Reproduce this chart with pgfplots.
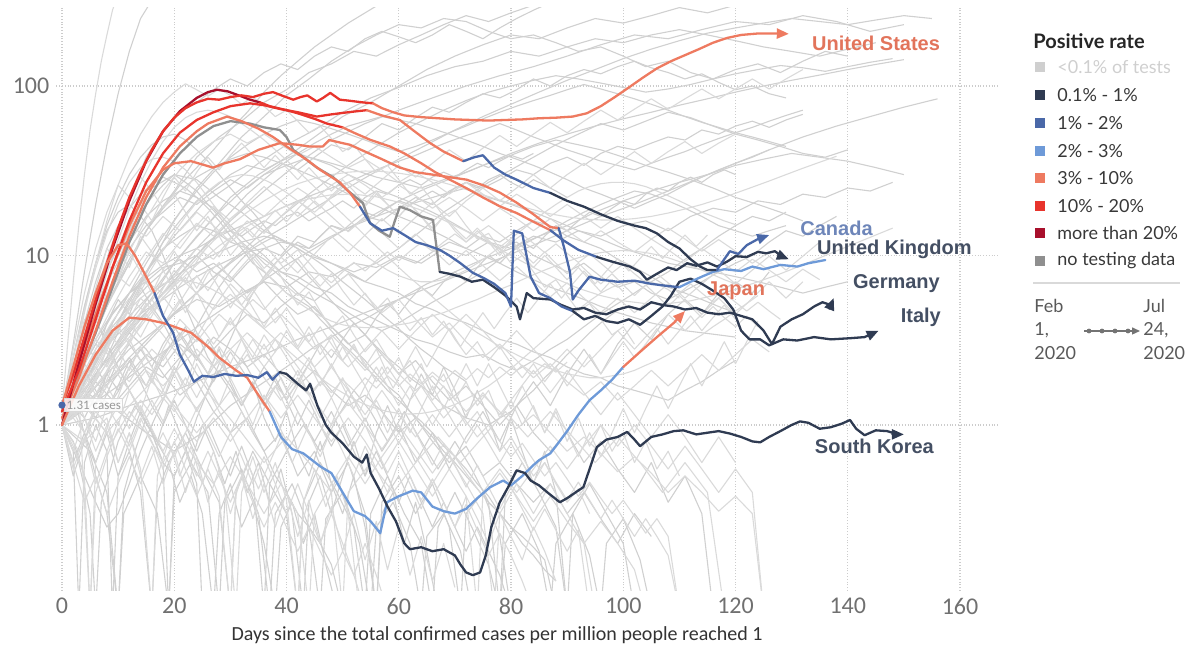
\documentclass[border=0pt]{standalone}
\usepackage{pgfplots}
\pgfplotsset{compat=1.18}
\usetikzlibrary{arrows.meta}
\usepackage{fontspec}
\setmainfont{Carlito}
\newfontfamily\lato{Lato}
\newfontfamily\arial{Liberation Sans}

\definecolor{cNone}{HTML}{CFCFCF}
\definecolor{cNavy}{HTML}{2F3B52}
\definecolor{cBlue}{HTML}{4A68A8}
\definecolor{cLight}{HTML}{6E9AD8}
\definecolor{cSalmon}{HTML}{EE7A60}
\definecolor{cRed}{HTML}{E8342C}
\definecolor{cDark}{HTML}{A8102C}
\definecolor{cNoData}{HTML}{8F8F8F}
\definecolor{cBack}{HTML}{D0D0D0}
\definecolor{cBack2}{HTML}{DADADA}
\definecolor{cTick}{HTML}{707070}

\pgfplotsset{
  bg/.style={cBack, line width=0.55pt, line join=round, mark=none},
  bgl/.style={cBack2, line width=0.55pt, line join=round, mark=none},
  hl/.style={line width=1.15pt, line join=round, line cap=round, mark=none},
  tip/.style={-{Triangle[length=6pt,width=5pt]}},
}

\begin{document}
\begin{tikzpicture}
% full canvas
\path (-28.195pt,-30.05pt) rectangle (569.305pt,295.45pt);

\begin{axis}[
  scale only axis, width=471.45pt, height=291.65pt,
  xmin=-1, xmax=167, ymode=log, ymin=0.105, ymax=290,
  axis line style={draw=none},
  major tick length=0pt, minor tick length=0pt,
  xtick={0,20,40,60,80,100,120,140,160},
  xticklabels={0,20,40,60,80,100,120,140,160},
  ytick={1,10,100}, yticklabels={1,10,100},
  grid=major, grid style={densely dotted, black!20, line width=0.6pt},
  tick label style={font=\fontsize{12}{12}\selectfont, text=cTick},
  clip=true,
]

% ---------- background countries ----------
\addplot[bg] coordinates {(0,1)(3,1.8)(6,3.5)(9,6)(12,9)(15,14)(18,19)(21,26)(24,33)(27,42)(30,55)(33,70)(36,92)(39,115)(42,140)(45,170)(48,200)(51,235)(54,270)(57,310)};
\addplot[bg] coordinates {(0,1.1)(4,2.4)(8,5)(12,9)(16,16)(20,24)(24,38)(28,50)(32,62)(36,80)(40,95)(44,120)(48,135)(52,160)(56,150)(60,175)(64,200)(68,230)(72,260)(76,240)(80,270)(84,300)};
\addplot[bg] coordinates {(0,1)(5,1.6)(10,3)(15,5)(20,9)(25,14)(30,22)(35,30)(40,38)(45,50)(50,66)(55,80)(60,100)(65,125)(70,150)(75,175)(80,200)(85,190)(90,220)(95,250)(100,235)(105,260)(110,290)(115,270)(120,300)};
\addplot[bg] coordinates {(0,1.2)(2,3)(4,8)(6,20)(8,45)(10,90)(12,160)(14,250)(16,320)};
\addplot[bg] coordinates {(0,1)(3,2.5)(6,6)(9,12)(12,22)(15,38)(18,55)(21,70)(24,80)(27,95)(30,110)(33,100)(36,120)(39,135)(42,125)(45,150)(48,170)(51,160)(54,190)(57,210)(60,195)(63,180)(66,200)(69,230)(72,210)(75,190)(78,220)(81,250)(84,280)(87,310)};
\addplot[bg] coordinates {(0,1.3)(5,2)(10,4)(15,8)(20,13)(25,20)(30,26)(35,35)(40,45)(45,55)(50,70)(55,85)(60,98)(65,115)(70,130)(75,140)(80,160)(85,150)(90,170)(95,190)(100,180)(105,200)(110,215)(115,200)(120,185)(125,170)(130,160)(135,150)(140,165)(145,180)};
\addplot[bg] coordinates {(0,1)(4,1.5)(8,2.5)(12,5)(16,9)(20,16)(24,25)(28,35)(32,50)(36,66)(40,88)(44,110)(48,140)(52,170)(56,200)(60,230)(64,220)(68,250)(72,240)(76,210)(80,190)(84,200)(88,180)(92,160)(96,170)(100,150)(104,130)(108,140)(112,120)(116,110)(120,125)(124,135)(128,120)(132,140)(136,160)(140,150)};
\addplot[bg] coordinates {(0,1.1)(6,2)(12,3.5)(18,6)(24,10)(30,16)(36,24)(42,35)(48,48)(54,60)(60,72)(66,85)(72,100)(78,115)(84,130)(90,150)(96,175)(102,200)(108,190)(114,215)(120,240)(126,230)(132,260)(138,240)(144,210)(150,230)};
\addplot[bg] coordinates {(0,1)(3,2)(6,4)(9,7)(12,11)(15,15)(18,18)(21,22)(24,20)(27,24)(30,28)(33,25)(36,30)(39,35)(42,32)(45,38)(48,45)(51,42)(54,50)(57,60)(60,55)(63,65)(66,75)(69,70)(72,80)(75,90)(78,85)(81,95)(84,110)(87,100)(90,115)(93,125)(96,118)(99,130)(102,140)(105,128)(108,120)(111,110)(114,118)(117,105)(120,95)(123,100)(126,90)(129,85)};
\addplot[bg] coordinates {(0,1)(4,3)(8,8)(12,16)(16,25)(20,30)(24,28)(28,22)(32,18)(36,14)(40,12)(44,10)(48,9)(52,8)(56,9)(60,11)(64,14)(68,18)(72,22)(76,27)(80,32)(84,38)(88,45)(92,52)(96,60)(100,55)(104,62)(108,70)(112,65)(116,58)(120,52)(124,48)(128,44)(132,40)(136,38)(140,42)};
\addplot[bg] coordinates {(0,1.1)(3,1.6)(6,2.8)(9,4)(12,6)(15,7)(18,8.5)(21,9)(24,10)(27,8)(30,7)(33,9)(36,11)(39,10)(42,13)(45,12)(48,15)(51,14)(54,17)(57,16)(60,19)(63,22)(66,20)(69,24)(72,27)(75,25)(78,28)(81,32)(84,30)(87,35)(90,38)(93,34)(96,40)(99,44)(102,42)(105,46)(108,50)(111,48)(114,55)(117,52)(120,58)(123,62)(126,57)(129,63)(132,68)};
\addplot[bg] coordinates {(0,1)(2,2.5)(4,5)(6,9)(8,14)(10,18)(12,20)(14,17)(16,14)(18,10)(20,7)(22,5)(24,3.5)(26,2.5)(28,2)(30,1.6)(32,1.2)(34,0.9)(36,0.7)(38,0.5)(40,0.4)(42,0.3)(44,0.25)(46,0.2)(48,0.15)(50,0.08)};
\addplot[bg] coordinates {(0,1.2)(3,2)(6,3)(9,4.5)(12,6)(15,8)(18,11)(21,13)(24,15)(27,14)(30,12)(33,11)(36,9.5)(39,8)(42,7.5)(45,6.5)(48,6)(51,5)(54,4.5)(57,4)(60,3.6)(63,3.2)(66,3)(69,2.7)(72,2.5)(75,2.6)(78,2.3)(81,2.1)(84,2.4)(87,2.8)(90,3.2)(93,3.8)(96,4.5)(99,5.2)(102,6)(105,7)(108,8)(111,9.5)(114,11)(117,13)(120,15)(123,17)(126,16)(129,18)};
\addplot[bg] coordinates {(0,1)(4,1.4)(8,2)(12,2.8)(16,3.5)(20,4.5)(24,5.5)(28,5)(32,6)(36,7)(40,6.5)(44,8)(48,7.5)(52,9)(56,8.5)(60,10)(64,9)(68,11)(72,10)(76,12)(80,11)(84,13)(88,12)(92,14)(96,13)(100,15)(104,16)(108,14)(112,17)(116,19)(120,18)(124,21)(128,20)(132,23)(136,22)(140,25)(144,24)(148,27)};
\addplot[bg] coordinates {(0,1)(3,1.3)(6,1.8)(9,1.4)(12,2)(15,2.6)(18,2.2)(21,3)(24,2.5)(27,3.3)(30,2.8)(33,2.2)(36,2.6)(39,2)(42,1.7)(45,2.1)(48,1.6)(51,1.3)(54,1.5)(57,1.2)(60,0.9)(63,1.1)(66,0.8)(69,0.6)(72,0.75)(75,0.5)(78,0.6)(81,0.45)(84,0.35)(87,0.45)(90,0.3)(93,0.4)(96,0.28)(99,0.2)(102,0.3)(105,0.22)};
\addplot[bg] coordinates {(0,1)(2,1.6)(4,2.8)(6,4.2)(8,3)(10,2.2)(12,1.6)(14,1.2)(16,0.9)(18,0.6)(20,0.5)(22,0.7)(24,1.1)(26,1.6)(28,2.3)(30,3.2)(32,4.5)(34,6)(36,7.5)(38,9)(40,10.5)(42,12)(44,11)(46,13)(48,15)(50,14)(52,16)(54,18)(56,17)(58,19)(60,21)(62,20)(64,22)(66,24)(68,22)(70,25)(72,27)(74,25)(76,28)(78,30)(80,27)(82,25)(84,28)(86,26)(88,24)(90,22)};
\addplot[bg] coordinates {(0,1.3)(3,1.9)(6,2.4)(9,3.2)(12,4)(15,4.8)(18,5.5)(21,6.5)(24,7.5)(27,8.5)(30,9.5)(33,10.5)(36,11)(39,12)(42,11.5)(45,10)(48,9)(51,8)(54,7)(57,6.5)(60,6)(63,5.2)(66,4.8)(69,4.3)(72,4)(75,3.6)(78,3.2)(81,3)(84,2.7)(87,2.5)(90,2.2)(93,2)(96,1.9)(99,1.7)(102,1.6)(105,1.5)(108,1.4)(111,1.6)(114,1.8)(117,2.1)(120,2.4)};
\addplot[bg] coordinates {(0,1)(2,0.5)(4,0.8)(6,1.3)(8,2)(10,2.8)(12,3.6)(14,4.3)(16,5)(18,6)(20,7)(22,8.5)(24,10)(26,12)(28,13.5)(30,14)(32,13)(34,14.5)(36,16)(38,15)(40,17)(42,18)(44,16)(46,17.5)(48,19)(50,21)(52,19)(54,22)(56,24)(58,23)(60,26)(62,28)(64,26)(66,29)(68,31)(70,29)(72,32)(74,35)(76,33)(78,36)(80,39)(82,37)(84,40)};
\addplot[bg] coordinates {(0,1)(3,1.2)(6,1.5)(9,1.3)(12,1.7)(15,2.2)(18,1.9)(21,2.5)(24,3.2)(27,2.8)(30,3.6)(33,4.5)(36,4)(39,5)(42,6)(45,5.4)(48,6.5)(51,7.8)(54,7)(57,8.5)(60,9.8)(63,9)(66,10.5)(69,12)(72,11)(75,13)(78,12)(81,14)(84,16)(87,15)(90,13)(93,12)(96,11)(99,9.5)(102,8.5)(105,7.5)(108,6.5)(111,6)(114,5.5)(117,5)(120,4.6)};
\addplot[bg] coordinates {(0,1)(5,1.5)(10,1.2)(15,0.9)(20,0.7)(25,0.9)(30,1.3)(35,1.7)(40,2.2)(45,2.9)(50,3.6)(55,4.4)(60,5.5)(65,6.8)(70,8)(75,9.5)(80,11)(85,13)(90,15)(95,18)(100,21)(105,24)(110,27)(115,30)(120,34)(125,37)(130,40)(135,38)(140,36)(145,33)(150,30)};
\addplot[bg] coordinates {(0,1)(2,1.4)(4,0.9)(6,0.6)(8,0.9)(10,0.5)(12,0.7)(14,0.4)(16,0.08)(17,0.4)(19,0.6)(21,0.35)(23,0.5)(25,0.3)(27,0.08)(28,0.3)(30,0.45)(32,0.25)(34,0.35)(36,0.2)(38,0.08)(39,0.25)(41,0.35)(43,0.2)(45,0.3)(47,0.15)(49,0.08)};
\addplot[bg] coordinates {(0,1.2)(3,2)(6,3)(9,2.5)(12,3.5)(15,2.8)(18,2)(21,1.5)(24,1.8)(27,1.2)(30,0.9)(33,1.1)(36,0.7)(39,0.9)(42,0.5)(45,0.7)(48,0.4)(51,0.6)(54,0.3)(56,0.08)(57,0.35)(60,0.5)(63,0.3)(66,0.45)(69,0.25)(71,0.08)(72,0.3)(75,0.4)(78,0.22)(80,0.08)};
\addplot[bg] coordinates {(0,1)(2,1.8)(4,3.2)(6,2.4)(8,4)(10,5.5)(12,4.5)(14,6.5)(16,5)(18,4)(20,3)(22,3.8)(24,2.6)(26,2)(28,2.8)(30,1.8)(32,1.3)(34,1.8)(36,1.1)(38,0.8)(40,1.2)(42,0.7)(44,0.5)(46,0.8)(48,0.45)(50,0.3)(52,0.5)(54,0.25)(56,0.08)(57,0.3)(59,0.4)(61,0.2)(63,0.35)(65,0.18)(67,0.08)};
\addplot[bg] coordinates {(0,1)(3,1.5)(6,1.1)(9,1.8)(12,2.5)(15,1.7)(18,2.6)(21,3.5)(24,2.5)(27,1.8)(30,2.7)(33,1.9)(36,1.3)(39,1.9)(42,1.2)(45,0.8)(48,1.2)(51,0.75)(54,1.1)(57,0.7)(60,1.0)(63,0.6)(66,0.9)(69,0.55)(72,0.85)(75,1.2)(78,0.8)(81,1.3)(84,1.8)(87,1.3)(90,2)(93,2.8)(96,2)(99,3)(102,4)(105,3.2)(108,4.5)(111,5.5)(114,4.5)(117,6)(120,7)(123,6)(126,8)};
\addplot[bg] coordinates {(0,1)(2,0.6)(4,0.9)(6,0.5)(8,0.3)(10,0.08)(11,0.4)(13,0.7)(15,1.1)(17,0.8)(19,1.3)(21,0.9)(23,0.6)(25,1)(27,0.7)(29,0.45)(31,0.7)(33,0.4)(35,0.6)(37,0.35)(39,0.55)(41,0.3)(43,0.08)(44,0.35)(46,0.5)(48,0.3)(50,0.5)(52,0.8)(54,0.5)(56,0.9)(58,1.3)(60,0.9)(62,1.4)(64,2)(66,1.5)(68,2.2)(70,1.6)(72,1.1)(74,1.6)(76,1.1)(78,0.7)(80,1.1)(82,0.7)(84,0.45)(86,0.7)(88,0.4)(90,0.08)};
\addplot[bg] coordinates {(0,1.1)(3,1.7)(6,2.6)(9,3.8)(12,5)(15,6.5)(18,8)(21,9.5)(24,8)(27,9)(30,7.5)(33,6)(36,7)(39,5.5)(42,4.5)(45,5)(48,3.8)(51,3)(54,3.4)(57,2.6)(60,2)(63,2.4)(66,1.8)(69,1.4)(72,1.7)(75,1.3)(78,1)(81,1.3)(84,0.9)(87,0.7)(90,0.9)(93,0.6)(96,0.8)(99,0.55)(102,0.4)(105,0.6)(108,0.35)(111,0.5)(114,0.3)(116,0.08)};
\addplot[bg] coordinates {(0,1)(2,2)(4,4)(6,7)(8,11)(10,15)(12,19)(14,23)(16,26)(18,29)(20,27)(22,25)(24,22)(26,19)(28,16)(30,13)(32,11)(34,9)(36,8)(38,7)(40,6)(42,5.5)(44,5)(46,4.2)(48,3.6)(50,3)(52,2.6)(54,2.2)(56,1.9)(58,1.6)(60,1.4)(62,1.2)(64,1)(66,0.85)(68,0.7)(70,0.6)(72,0.5)(74,0.42)(76,0.35)(78,0.3)(80,0.25)(82,0.22)(84,0.19)(86,0.16)(88,0.08)};
\addplot[bg] coordinates {(0,1)(3,1.5)(6,2.4)(9,3.5)(12,5.5)(15,8)(18,12)(21,16)(24,21)(27,25)(30,30)(33,34)(36,32)(39,36)(42,40)(45,37)(48,34)(51,30)(54,27)(57,24)(60,22)(63,20)(66,18)(69,16)(72,14)(75,12.5)(78,11)(81,12)(84,10)(87,9)(90,8)(93,9)(96,7.5)(99,6.5)(102,7)(105,6)(108,5.5)(111,6.2)(114,7)(117,8)(120,9)(123,10)(126,12)(129,14)(132,13)(135,15)(138,17)};
\addplot[bg] coordinates {(0,1)(4,1.6)(8,2.5)(12,4)(16,6)(20,9)(24,13)(28,18)(32,24)(36,30)(40,34)(44,38)(48,35)(52,32)(56,29)(60,27)(64,25)(68,28)(72,31)(76,35)(80,39)(84,44)(88,48)(92,45)(96,42)(100,38)(104,34)(108,31)(112,28)(116,25)(120,22)(124,20)(128,18)(132,16)};
\addplot[bg] coordinates {(0,1)(2,1.3)(4,1.8)(6,2.2)(8,1.7)(10,2.4)(12,3)(14,2.4)(16,1.8)(18,2.5)(20,3.2)(22,2.6)(24,2)(26,1.6)(28,2.1)(30,1.7)(32,1.3)(34,1.7)(36,2.2)(38,1.8)(40,1.4)(42,1.8)(44,2.3)(46,3)(48,2.5)(50,3.2)(52,4)(54,3.4)(56,4.3)(58,5.2)(60,4.5)(62,5.5)(64,6.5)(66,5.8)(68,7)(70,8)(72,7)(74,8.5)(76,10)(78,9)(80,10.5)(82,12)(84,11)(86,13)(88,15)(90,14)(92,16)(94,18)(96,17)(98,19)(100,21)(102,20)(104,23)(106,25)(108,24)(110,27)(112,29)(114,27)(116,30)(118,32)(120,30)};
\addplot[bg] coordinates {(0,1)(3,2.2)(6,4.5)(9,8)(12,12)(15,17)(18,21)(21,24)(24,22)(27,19)(30,15)(33,12)(36,10)(39,8)(42,7)(45,6)(48,5.3)(51,4.6)(54,4)(57,3.6)(60,4)(63,4.6)(66,5.3)(69,6)(72,7)(75,8)(78,9.5)(81,11)(84,12.5)(87,14)(90,16)(93,18)(96,20)(99,22)(102,24)(105,23)(108,21)(111,19)(114,17)(117,15)(120,14)(123,13)(126,14)(129,15)};
\addplot[bg] coordinates {(0,1)(2,0.7)(3,0.08)(4,0.6)(6,1)(8,0.7)(9,0.08)(10,0.5)(12,0.8)(14,1.2)(16,0.9)(18,0.6)(19,0.08)(20,0.5)(22,0.7)(24,0.45)(25,0.08)};
\addplot[bg] coordinates {(0,1.1)(2,1.9)(4,3)(6,4.8)(8,7)(10,10)(12,14)(14,18)(16,22)(18,26)(20,30)(22,27)(24,24)(26,20)(28,17)(30,14)(32,12)(34,10.5)(36,9)(38,8)(40,7)(42,6)(44,5.2)(46,4.5)(48,3.8)(50,3.3)(52,2.8)(54,2.4)(56,2)(58,1.7)(60,1.5)(62,1.2)(64,1.05)(66,0.9)(68,0.75)(70,0.65)(72,0.55)(74,0.45)(76,0.38)(78,0.3)(80,0.25)(82,0.2)(84,0.17)(86,0.14)(88,0.12)};
\addplot[bg] coordinates {(0,1)(4,1.8)(8,3)(12,4.4)(16,6)(20,7.5)(24,9)(28,10.5)(32,12)(36,13)(40,12)(44,11)(48,13)(52,15)(56,17)(60,19)(64,21)(68,23)(72,25)(76,22)(80,20)(84,18)(88,16)(92,14)(96,12.5)(100,11)(104,10)(108,9)(112,8.5)(116,8)(120,7.5)(124,7)(128,6.5)(132,6)(136,6.5)(140,7)};
\addplot[bg] coordinates {(0,1)(2,1.3)(4,1.1)(6,1.5)(8,2)(10,1.6)(12,2.2)(14,2.8)(16,2.2)(18,3)(20,3.8)(22,3)(24,2.4)(26,3.2)(28,2.5)(30,1.9)(32,2.5)(34,1.9)(36,1.4)(38,1.9)(40,1.4)(42,1)(44,1.4)(46,1)(48,0.75)(50,1)(52,0.7)(54,0.5)(56,0.7)(58,0.5)(60,0.35)(62,0.5)(64,0.35)(66,0.25)(68,0.35)(70,0.25)(72,0.18)(74,0.25)(76,0.18)(78,0.13)(80,0.08)};
\addplot[bg] coordinates {(0,1)(3,1.4)(6,2)(9,2.8)(12,3.8)(15,5)(18,6.5)(21,8.5)(24,11)(27,14)(30,18)(33,23)(36,28)(39,34)(42,40)(45,46)(48,52)(51,58)(54,62)(57,66)(60,63)(63,60)(66,56)(69,52)(72,48)(75,44)(78,40)(81,37)(84,34)(87,31)(90,28)(93,25)(96,23)(99,21)(102,19)(105,21)(108,23)(111,26)(114,29)(117,32)(120,35)(123,38)(126,42)};
\addplot[bg] coordinates {(0,1.2)(2,2.5)(4,5)(6,9)(8,15)(10,22)(12,30)(14,38)(16,45)(18,50)(20,52)(22,48)(24,42)(26,36)(28,30)(30,25)(32,21)(34,18)(36,15)(38,12.5)(40,10.5)(42,9)(44,7.5)(46,6.4)(48,5.4)(50,4.6)(52,4)(54,3.4)(56,2.9)(58,2.5)(60,2.2)(62,1.9)(64,1.7)(66,1.5)(68,1.3)(70,1.2)(72,1.1)(74,1.05)(76,1)(78,1.1)(80,1.2)(82,1.4)(84,1.6)(86,1.9)(88,2.2)(90,2.6)(92,3)(94,3.5)(96,4)(98,4.5)(100,5)};
\addplot[bg] coordinates {(0,1)(5,1.3)(10,1.7)(15,2.3)(20,3)(25,4)(30,5.2)(35,6.8)(40,8.8)(45,11)(50,14)(55,17)(60,21)(65,25)(70,29)(75,34)(80,40)(85,46)(90,52)(95,58)(100,64)(105,70)(110,77)(115,84)(120,92)(125,100)(130,108)(135,116)(140,125)(145,134)(150,143)};
\addplot[bg] coordinates {(0,1)(2,0.8)(4,0.5)(6,0.35)(8,0.25)(10,0.3)(12,0.45)(14,0.7)(16,1)(18,1.4)(20,2)(22,2.8)(24,3.8)(26,5)(28,6.5)(30,8)(32,9.5)(34,11)(36,12)(38,13)(40,12)(42,11)(44,10)(46,9)(48,8)(50,7)(52,6.2)(54,5.5)(56,4.8)(58,4.2)(60,3.7)(62,3.2)(64,2.8)(66,2.5)(68,2.2)(70,2)(72,1.8)};
\addplot[bg] coordinates {(0,1)(3,1.9)(6,3.5)(9,6)(12,9.5)(15,14)(18,19)(21,24)(24,29)(27,33)(30,37)(33,40)(36,38)(39,35)(42,32)(45,29)(48,26)(51,23)(54,21)(57,19)(60,17)(63,15.5)(66,14)(69,12.5)(72,11)(75,10)(78,9)(81,8)(84,7.2)(87,6.5)(90,6)(93,5.5)(96,5)(99,4.6)(102,4.3)(105,4)(108,3.8)(111,3.6)(114,3.5)(117,3.4)(120,3.3)};
\addplot[bg] coordinates {(0,1)(4,1.3)(8,1.8)(12,2.5)(16,3.4)(20,4.6)(24,6)(28,8)(32,10.5)(36,14)(40,18)(44,23)(48,29)(52,36)(56,44)(60,53)(64,62)(68,72)(72,82)(76,92)(80,100)(84,108)(88,115)(92,110)(96,104)(100,98)(104,92)(108,96)(112,102)(116,110)(120,118)(124,125)(128,132)(132,128)(136,122)(140,130)(144,138)(148,145)};
\addplot[bg] coordinates {(0,1)(3,1.6)(6,2.5)(9,4)(12,6)(15,9)(18,13)(21,18)(24,24)(27,31)(30,38)(33,45)(36,52)(39,58)(42,63)(45,60)(48,56)(51,52)(54,48)(57,44)(60,41)(63,44)(66,48)(69,53)(72,58)(75,64)(78,70)(81,76)(84,82)(87,88)(90,95)(93,102)(96,96)(99,90)(102,84)(105,78)(108,72)(111,66)(114,61)(117,57)(120,53)(123,50)(126,47)(129,44)};
\addplot[bg] coordinates {(0,1)(5,1.4)(10,2)(15,3)(20,4.5)(25,6.5)(30,9)(35,12)(40,15)(45,19)(50,24)(55,30)(60,37)(65,45)(70,55)(75,66)(80,78)(85,92)(90,108)(95,125)(100,145)(105,165)(110,185)(115,205)(120,220)(125,235)(130,250)(135,240)(140,230)(145,245)(150,260)(155,250)};
\addplot[bg] coordinates {(0,1.2)(3,2.1)(6,3.2)(9,4.6)(12,6)(15,7.4)(18,8.8)(21,10)(24,11)(27,12.5)(30,14)(33,15.5)(36,17)(39,19)(42,21)(45,23)(48,25)(51,27)(54,30)(57,33)(60,36)(63,39)(66,43)(69,47)(72,51)(75,55)(78,60)(81,55)(84,50)(87,46)(90,42)(93,39)(96,36)(99,34)(102,32)(105,35)(108,38)(111,41)(114,45)(117,49)(120,53)(123,57)(126,62)(129,67)(132,72)};
\addplot[bg] coordinates {(0,1)(6,1.1)(12,1.3)(18,1.5)(24,1.8)(30,2.2)(36,2.6)(42,3.2)(48,3.8)(54,4.6)(60,5.5)(66,6.6)(72,8)(78,9.6)(84,11.5)(90,14)(96,17)(102,20)(108,24)(114,29)(120,35)(126,42)(132,50)(138,58)(144,66)(150,75)(156,84)};
\addplot[bg] coordinates {(0,1)(5,0.7)(8,0.4)(10,0.08)(11,0.3)(14,0.5)(17,0.3)(19,0.08)(20,0.4)(23,0.6)(26,0.4)(28,0.08)(29,0.35)(32,0.55)(35,0.3)(37,0.08)(38,0.3)(41,0.45)(44,0.25)(46,0.08)(47,0.28)(50,0.4)(53,0.2)(55,0.08)(56,0.25)(59,0.35)(62,0.2)(64,0.08)(65,0.22)(68,0.3)(71,0.18)(73,0.08)};
\addplot[bg] coordinates {(0,1)(3,0.6)(5,0.3)(6,0.08)(7,0.35)(10,0.8)(13,1.3)(16,0.9)(19,0.6)(22,0.9)(25,0.55)(28,0.35)(30,0.08)(31,0.4)(34,0.7)(37,0.45)(40,0.3)(42,0.08)(43,0.35)(46,0.6)(49,0.4)(52,0.25)(54,0.08)(55,0.3)(58,0.5)(61,0.3)(64,0.2)(66,0.08)(67,0.25)(70,0.4)(73,0.25)(76,0.15)(78,0.08)(79,0.2)(82,0.3)(85,0.18)(87,0.08)(88,0.2)(91,0.3)(94,0.17)(96,0.08)(97,0.2)(100,0.28)(103,0.16)(105,0.08)};
\addplot[bg] coordinates {(0,1.1)(2,1.5)(4,2.1)(6,1.6)(8,1.2)(10,1.7)(12,2.4)(14,1.8)(16,1.3)(18,1)(20,1.4)(22,1)(24,0.7)(26,1)(28,0.7)(30,0.5)(32,0.75)(34,0.5)(36,0.08)(37,0.45)(40,0.7)(43,1)(46,0.7)(49,1.1)(52,1.6)(55,1.2)(58,0.8)(61,1.2)(64,0.8)(67,0.55)(70,0.8)(73,0.55)(76,0.35)(78,0.08)(79,0.4)(82,0.6)(85,0.4)(88,0.25)(90,0.08)(91,0.3)(94,0.45)(97,0.3)(100,0.2)(102,0.08)};
% more, lighter
\addplot[bgl] coordinates {(0,1)(2,1.5)(4,2.3)(6,1.8)(8,2.9)(10,3.8)(12,3.1)(14,4.6)(16,5.5)(18,4.4)(20,6.1)(22,7.4)(24,5.9)(26,7.8)(28,9.1)(30,7.2)(32,8.6)(34,10.2)(36,8.4)(38,9.7)(40,8.1)(42,9.6)(44,7.9)(46,6.6)(48,7.8)(50,6.2)(52,5.1)(54,6.0)(56,4.8)(58,5.6)(60,4.4)(62,3.6)(64,4.3)(66,3.4)(68,4.1)(70,3.2)(72,2.6)(74,3.1)(76,2.4)(78,2.9)(80,2.3)(82,1.9)(84,2.3)(86,1.8)(88,2.2)(90,1.7)(92,2.1)(94,2.6)(96,2.0)(98,2.5)(100,3.1)(102,2.5)(104,3.0)(106,3.7)(108,3.0)(110,3.6)(112,4.4)(114,3.6)(116,4.3)(118,5.1)(120,4.2)};
\addplot[bgl] coordinates {(0,1)(2,0.7)(4,1.1)(6,0.8)(8,1.3)(10,1.0)(12,1.6)(14,1.2)(16,1.9)(18,1.4)(20,2.2)(22,1.7)(24,2.6)(26,2.0)(28,2.9)(30,2.3)(32,3.2)(34,2.5)(36,3.4)(38,2.7)(40,3.6)(42,2.8)(44,3.5)(46,2.6)(48,3.3)(50,2.4)(52,3.0)(54,2.2)(56,2.8)(58,2.0)(60,2.5)(62,1.8)(64,2.3)(66,1.6)(68,2.0)(70,1.4)(72,1.8)(74,1.3)(76,1.6)(78,1.1)(80,1.4)(82,1.0)(84,1.3)(86,0.9)(88,1.2)(90,0.8)(92,1.1)(94,0.75)(96,1.0)(98,0.7)(100,0.9)(102,0.6)(104,0.8)(106,0.55)(108,0.7)(110,0.5)};
\addplot[bgl] coordinates {(0,1)(3,2.6)(6,5.5)(9,9.8)(12,15)(15,13)(18,17)(21,14)(24,18)(27,15)(30,12)(33,14.5)(36,11.5)(39,9)(42,10.8)(45,8.3)(48,6.5)(51,7.8)(54,5.9)(57,4.6)(60,5.5)(63,4.2)(66,3.3)(69,4.0)(72,3.1)(75,2.5)(78,3.0)(81,2.4)(84,1.9)(87,2.3)(90,1.8)(93,1.5)(96,1.8)(99,1.4)(102,1.7)(105,2.1)(108,1.7)(111,2.1)(114,2.6)(117,2.1)(120,2.6)(123,3.2)(126,2.7)};
\addplot[bgl] coordinates {(0,1.2)(2,2.8)(4,6)(6,11)(8,18)(10,26)(12,22)(14,29)(16,24)(18,19)(20,23)(22,18)(24,14)(26,17)(28,13)(30,10)(32,12)(34,9.3)(36,7.2)(38,8.6)(40,6.6)(42,5.1)(44,6.1)(46,4.7)(48,3.7)(50,4.4)(52,3.4)(54,2.7)(56,3.2)(58,2.5)(60,2.0)(62,2.4)(64,1.8)(66,1.4)(68,1.7)(70,1.3)(72,1.0)(74,1.2)(76,0.9)(78,0.7)(80,0.85)(82,0.65)(84,0.5)(86,0.6)(88,0.45)(90,0.35)(92,0.42)(94,0.3)};
\addplot[bgl] coordinates {(0,1)(2,1.3)(4,1.9)(6,2.6)(8,3.5)(10,3)(12,4.2)(14,5.6)(16,4.8)(18,6.4)(20,8.2)(22,7)(24,9.2)(26,11.5)(28,9.8)(30,12.4)(32,15)(34,12.8)(36,15.6)(38,18.5)(40,15.8)(42,18.8)(44,22)(46,19)(48,22.5)(50,26)(52,22.5)(54,19.5)(56,23)(58,20)(60,17)(62,20)(64,17)(66,14.5)(68,17)(70,14.5)(72,12.5)(74,14.5)(76,12.3)(78,10.5)(80,12.3)(82,10.4)(84,9)(86,10.5)(88,9)(90,7.8)(92,9)(94,7.8)(96,6.8)(98,7.8)(100,6.7)(102,5.8)(104,6.7)(106,5.8)(108,5)(110,5.8)(112,5)(114,4.3)(116,5)(118,4.3)(120,3.8)(122,4.4)(124,3.8)};
\addplot[bgl] coordinates {(0,1)(2,1.6)(4,1.2)(6,1.9)(8,2.8)(10,2.1)(12,3.2)(14,2.4)(16,1.8)(18,2.7)(20,2.0)(22,1.5)(24,2.3)(26,1.7)(28,1.3)(30,1.9)(32,1.4)(34,1.0)(36,1.5)(38,1.1)(40,0.8)(42,1.2)(44,0.9)(46,0.65)(48,0.95)(50,0.7)(52,0.5)(54,0.75)(56,0.55)(58,0.4)(60,0.6)(62,0.45)(64,0.32)(66,0.48)(68,0.35)(70,0.25)(72,0.38)(74,0.28)(76,0.2)(78,0.3)(80,0.22)(82,0.16)(84,0.25)(86,0.18)(88,0.12)};
\addplot[bgl] coordinates {(0,1.1)(3,1.9)(6,3.2)(9,5)(12,7.5)(15,10.5)(18,9)(21,12)(24,15.5)(27,13)(30,16.5)(33,20)(36,17)(39,21)(42,25)(45,21.5)(48,26)(51,30)(54,26)(57,22)(60,26)(63,22.5)(66,19)(69,22)(72,19)(75,16)(78,19)(81,16.5)(84,14)(87,16.5)(90,14)(93,12)(96,14)(99,12)(102,10.5)(105,12.5)(108,10.8)(111,9.2)(114,11)(117,9.4)(120,8)(123,9.5)(126,8.2)(129,7)(132,8.3)(135,7.2)};
\addplot[bgl] coordinates {(0,1)(2,0.75)(4,0.5)(5,0.08)(6,0.4)(8,0.65)(10,0.95)(12,0.7)(14,1.05)(16,1.4)(18,1.05)(20,1.45)(22,1.9)(24,1.45)(26,1.95)(28,2.5)(30,1.9)(32,2.5)(34,3.2)(36,2.5)(38,3.2)(40,2.5)(42,1.95)(44,2.5)(46,1.9)(48,1.45)(50,1.9)(52,1.4)(54,1.05)(56,1.4)(58,1.05)(60,0.78)(62,1.05)(64,0.78)(66,0.58)(68,0.78)(70,0.58)(72,0.43)(74,0.58)(76,0.43)(78,0.32)(80,0.43)(82,0.32)(84,0.24)(86,0.32)(88,0.24)(90,0.18)(92,0.24)(94,0.08)};
\addplot[bgl] coordinates {(0,1)(3,1.4)(6,2.1)(9,3.2)(12,4.8)(15,7)(18,6)(21,8.3)(24,11)(27,9.5)(30,12.5)(33,16)(36,13.5)(39,17)(42,21)(45,18)(48,22)(51,27)(54,23)(57,28)(60,34)(63,29)(66,35)(69,42)(72,36)(75,43)(78,51)(81,44)(84,52)(87,61)(90,53)(93,62)(96,72)(99,63)(102,73)(105,84)(108,73)(111,84)(114,96)(117,84)(120,96)(123,110)(126,96)(129,110)(132,125)};
\addplot[bgl] coordinates {(0,1)(2,1.9)(4,3.5)(6,6.4)(8,11)(10,9)(12,14)(14,20)(16,16)(18,22)(20,29)(22,24)(24,31)(26,38)(28,32)(30,39)(32,46)(34,39)(36,33)(38,39)(40,33)(42,28)(44,33)(46,28)(48,24)(50,28)(52,24)(54,20)(56,24)(58,20)(60,17)(62,20)(64,17)(66,14)(68,17)(70,14)(72,12)(74,14)(76,12)(78,10)(80,12)(82,10)(84,8.5)(86,10)(88,8.5)(90,7.2)(92,8.5)(94,7.2)(96,6.1)(98,7.2)(100,6.1)};
\addplot[bgl] coordinates {(0,1)(4,0.8)(8,1.1)(10,0.6)(12,0.9)(14,0.5)(16,0.75)(18,0.45)(20,0.7)(22,0.4)(24,0.65)(26,0.35)(28,0.55)(30,0.3)(32,0.5)(34,0.28)(36,0.45)(38,0.25)(40,0.4)(42,0.22)(44,0.36)(46,0.2)(48,0.33)(50,0.18)(52,0.3)(54,0.16)(56,0.27)(58,0.14)(60,0.25)(62,0.13)(64,0.22)(66,0.12)(68,0.2)(70,0.11)};
\addplot[bgl] coordinates {(0,1)(2,1.2)(4,1.5)(6,1.3)(8,1.7)(10,2.1)(12,1.8)(14,2.3)(16,2.8)(18,2.4)(20,3)(22,3.6)(24,3.1)(26,3.8)(28,4.5)(30,3.9)(32,4.7)(34,5.5)(36,4.8)(38,5.7)(40,6.6)(42,5.8)(44,6.8)(46,7.8)(48,6.9)(50,8)(52,9.1)(54,8.1)(56,9.3)(58,10.5)(60,9.3)(62,10.6)(64,11.9)(66,10.6)(68,12)(70,13.4)(72,12)(74,13.5)(76,15)(78,13.4)(80,11.9)(82,13.3)(84,11.8)(86,10.4)(88,11.7)(90,10.3)(92,9.1)(94,10.2)(96,9)(98,7.9)(100,8.9)(102,7.8)(104,6.9)(106,7.8)(108,6.9)(110,6)(112,6.8)(114,6)(116,5.3)(118,6)(120,5.3)(122,4.7)(124,5.3)(126,4.7)(128,4.2)};
\addplot[bgl] coordinates {(0,1.2)(1,3)(2,7)(3,15)(4,30)(5,55)(6,90)(7,140)(8,200)(9,280)(10,350)};
\addplot[bgl] coordinates {(0,1)(2,2.2)(4,4.6)(6,9)(8,16)(10,26)(12,38)(14,52)(16,66)(18,80)(20,92)(22,103)(24,95)(26,87)(28,96)(30,88)(32,78)(34,86)(36,76)(38,66)(40,72)(42,62)(44,53)(46,58)(48,49)(50,41)(52,45)(54,37)(56,31)(58,34)(60,28)(62,23)(64,25.5)(66,21)(68,17)(70,18.5)(72,15)(74,12.5)(76,13.5)(78,11)(80,9)(82,10)(84,8)(86,6.5)(88,7.2)(90,5.8)(92,4.7)(94,5.2)(96,4.2)(98,3.4)(100,3.8)(102,3)};
\addplot[bgl] coordinates {(0,1)(3,1.5)(5,0.08)(6,0.6)(9,1.2)(12,2.2)(15,1.7)(18,2.8)(21,4.2)(24,3.3)(27,4.9)(30,6.8)(33,5.4)(36,7.4)(39,9.8)(42,7.9)(45,10.2)(48,13)(51,10.5)(54,13.2)(57,16.5)(60,13.5)(63,16.8)(66,20.5)(69,17)(72,21)(75,25)(78,21)(81,25)(84,30)(87,25)(90,30)(93,35)(96,30)(99,35)(102,41)(105,35)(108,41)(111,47)(114,40)(117,46)(120,52)};
\addplot[bgl] coordinates {(0,1)(2,1.4)(4,2)(6,2.7)(8,2.2)(10,3)(12,4)(14,3.3)(16,4.4)(18,5.7)(20,4.7)(22,6)(24,7.6)(26,6.2)(28,7.8)(30,6.4)(32,5.1)(34,6.3)(36,5)(38,4)(40,4.9)(42,3.9)(44,3.1)(46,3.8)(48,3)(50,2.4)(52,2.9)(54,2.3)(56,1.8)(58,2.2)(60,1.75)(62,1.4)(64,1.7)(66,1.35)(68,1.1)(70,1.3)(72,1.05)(74,0.85)(76,1.0)(78,0.8)(80,0.65)(82,0.78)(84,0.62)(86,0.5)(88,0.6)(90,0.48)(92,0.38)(94,0.46)(96,0.37)(98,0.3)(100,0.36)(102,0.29)(104,0.23)(106,0.28)(108,0.22)(110,0.08)};
\addplot[bgl] coordinates {(0,1.3)(3,2.5)(6,4.6)(9,8)(12,6.6)(15,9.6)(18,13.5)(21,11)(24,15)(27,19.5)(30,16)(33,20.5)(36,25.5)(39,21)(42,17)(45,21)(48,17)(51,13.8)(54,16.8)(57,13.6)(60,11)(63,13.4)(66,10.9)(69,8.8)(72,10.7)(75,8.7)(78,7.1)(81,8.6)(84,7)(87,5.7)(90,6.9)(93,5.6)(96,4.6)(99,5.6)(102,4.6)(105,5.6)(108,6.8)(111,5.6)(114,6.8)(117,8.2)(120,6.8)(123,8.2)(126,9.9)(129,8.2)(132,9.9)(135,12)};
\addplot[bgl] coordinates {(0,1)(2,0.55)(4,0.85)(6,0.45)(8,0.7)(10,1.05)(12,0.75)(14,1.1)(16,0.8)(18,0.55)(20,0.8)(22,0.55)(24,0.38)(26,0.55)(28,0.38)(30,0.08)(31,0.4)(33,0.6)(35,0.42)(37,0.6)(39,0.85)(41,0.6)(43,0.85)(45,1.2)(47,0.85)(49,1.2)(51,1.65)(53,1.2)(55,1.65)(57,2.2)(59,1.65)(61,2.2)(63,2.9)(65,2.2)(67,2.9)(69,3.7)(71,2.9)(73,3.7)(75,4.6)(77,3.7)(79,4.6)(81,5.6)(83,4.6)(85,5.6)(87,6.8)(89,5.6)(91,6.8)(93,8.1)(95,6.8)(97,8.1)(99,9.6)(101,8.1)(103,9.6)(105,11.3)(107,9.6)(109,11.3)(111,13.2)(113,11.3)(115,13.2)};
\addplot[bgl] coordinates {(0,1.1)(3,2)(6,3.6)(9,6.3)(12,10.5)(15,16.5)(18,24)(21,32)(24,40)(27,47)(30,52)(33,46)(36,52)(39,45)(42,39)(45,44)(48,38)(51,33)(54,37)(57,32)(60,27)(63,31)(66,27)(69,23)(72,27)(75,23)(78,19.5)(81,23)(84,20)(87,17)(90,20)(93,17)(96,14.5)(99,17)(102,14.5)(105,12.5)(108,14.5)(111,12.5)(114,10.6)(117,12.4)(120,10.6)(123,9)(126,10.5)};
\addplot[bgl] coordinates {(0,1)(2,1.1)(4,0.9)(6,1.2)(8,1.0)(10,1.3)(12,1.1)(14,1.4)(16,1.15)(18,1.45)(20,1.2)(22,1.5)(24,1.25)(26,1.55)(28,1.3)(30,1.6)(32,1.35)(34,1.65)(36,1.4)(38,1.7)(40,1.45)(42,1.75)(44,1.5)(46,1.8)(48,1.55)(50,1.85)(52,1.6)(54,1.9)(56,1.65)(58,1.95)(60,1.7)(62,2)(64,1.75)(66,2.05)(68,1.8)(70,2.1)(72,1.85)(74,2.15)(76,1.9)(78,2.2)(80,1.95)(82,2.25)(84,2)(86,2.3)(88,2.05)(90,2.35)};
\addplot[bgl] coordinates {(0,1)(2,1.7)(4,2.9)(6,4.8)(8,7.8)(10,12.3)(12,18.6)(14,26.8)(16,36.5)(18,47)(20,57)(22,65)(24,70)(26,72)(28,70)(30,66)(32,60)(34,54)(36,48)(38,42)(40,36.5)(42,31.6)(44,27.3)(46,23.6)(48,20.4)(50,17.6)(52,15.2)(54,13.1)(56,11.3)(58,9.8)(60,8.5)(62,7.4)(64,6.5)(66,5.7)(68,5)(70,4.4)(72,3.9)(74,3.5)(76,3.2)(78,2.9)(80,2.7)(82,2.5)(84,2.35)(86,2.2)(88,2.1)(90,2.0)(92,1.95)(94,1.9)(96,1.9)(98,1.95)(100,2.0)(102,2.1)(104,2.25)(106,2.4)(108,2.6)(110,2.85)(112,3.1)(114,3.4)(116,3.8)(118,4.2)(120,4.7)(122,5.2)(124,5.8)};
\addplot[bgl] coordinates {(0,1)(2,1.3)(4,1.7)(6,2.2)(8,2.9)(10,3.8)(12,5)(14,6.5)(16,8.4)(18,10.8)(20,13.7)(22,17)(24,20.6)(26,24)(28,27)(30,29)(32,30)(34,29.5)(36,28)(38,26)(40,23.5)(42,21)(44,18.6)(46,16.4)(48,14.4)(50,12.7)(52,11.2)(54,10)(56,9)(58,8.2)(60,7.6)(62,7.2)(64,7)(66,7)(68,7.2)(70,7.6)(72,8.2)(74,9)(76,10)(78,11.2)(80,12.6)(82,14.2)(84,16)(86,18)(88,20)(90,22)(92,24)(94,25.5)(96,26.5)(98,27)(100,27)(102,26.5)(104,25.5)(106,24)(108,22.5)(110,21)(112,19.5)(114,18)(116,17)(118,16)(120,15.2)};
\addplot[bgl] coordinates {(0,1)(2,1.6)(4,1.1)(6,0.7)(8,1.0)(10,0.6)(12,0.9)(14,0.55)(16,0.08)(17,0.5)(19,0.8)(21,0.5)(23,0.75)(25,0.45)(27,0.7)(29,0.42)(31,0.08)(32,0.4)(34,0.65)(36,0.4)(38,0.6)(40,0.36)(42,0.08)(43,0.35)(45,0.55)(47,0.33)(49,0.5)(51,0.3)(53,0.08)};
\addplot[bgl] coordinates {(0,1)(2,1.2)(4,0.9)(6,1.3)(8,1.7)(10,1.3)(12,0.95)(14,1.3)(16,0.95)(18,0.7)(20,0.95)(22,0.7)(24,0.5)(26,0.7)(28,0.5)(30,0.35)(32,0.5)(34,0.35)(36,0.25)(38,0.35)(40,0.25)(42,0.18)(44,0.25)(46,0.18)(48,0.13)(50,0.18)(52,0.13)(54,0.08)};
\addplot[bgl] coordinates {(0,1.1)(3,1.8)(6,2.8)(9,4.1)(12,5.6)(15,4.6)(18,5.9)(21,7.4)(24,6)(27,4.8)(30,5.9)(33,4.7)(36,3.7)(39,4.5)(42,3.6)(45,2.8)(48,3.4)(51,2.7)(54,2.1)(57,2.6)(60,2.0)(63,1.6)(66,1.95)(69,1.55)(72,1.2)(75,1.5)(78,1.2)(81,0.95)(84,1.15)(87,0.9)(90,0.7)(93,0.85)(96,0.68)(99,0.53)(102,0.65)(105,0.52)(108,0.4)(111,0.5)(114,0.4)(117,0.31)(120,0.38)(123,0.3)(125,0.08)};
\addplot[bgl] coordinates {(0,1)(2,2.1)(4,4.2)(6,3.4)(8,6.3)(10,10.5)(12,8.5)(14,13)(16,10.5)(18,8.2)(20,10.6)(22,8.3)(24,6.4)(26,8.3)(28,6.4)(30,4.9)(32,6.3)(34,4.9)(36,3.8)(38,4.9)(40,3.8)(42,2.9)(44,3.8)(46,2.9)(48,2.2)(50,2.9)(52,2.2)(54,1.7)(56,2.2)(58,1.7)(60,1.3)(62,1.7)(64,1.3)(66,1.0)(68,1.3)(70,1.0)(72,0.78)(74,1.0)(76,0.78)(78,0.6)(80,0.78)(82,0.6)(84,0.46)(86,0.6)(88,0.46)(90,0.36)(92,0.46)(94,0.36)(96,0.28)(98,0.36)(100,0.28)(102,0.22)(104,0.28)(106,0.22)(108,0.17)(110,0.08)};
\addplot[bgl] coordinates {(0,1)(4,1.5)(8,2.3)(12,3.3)(16,4.8)(20,6.6)(24,8.8)(28,11.4)(32,14.2)(36,17)(40,19.6)(44,21.6)(48,22.8)(52,23)(56,22.2)(60,20.6)(64,18.5)(68,16.2)(72,13.9)(76,11.8)(80,10)(84,8.5)(88,7.3)(92,6.4)(96,5.8)(100,5.4)(104,5.2)(108,5.2)(112,5.4)(116,5.8)(120,6.3)(124,7)(128,7.8)(132,8.8)(136,10)(140,11.3)(144,12.8)(148,14.5)};
\addplot[bgl] coordinates {(0,1.2)(2,2.5)(4,4.8)(6,8.4)(8,13.5)(10,20)(12,27)(14,33)(16,37)(18,38)(20,36)(22,32)(24,27)(26,22)(28,18)(30,14.5)(32,11.8)(34,9.7)(36,8.1)(38,6.9)(40,6)(42,5.3)(44,4.8)(46,4.4)(48,4.1)(50,3.9)(52,3.8)(54,3.75)(56,3.75)(58,3.8)(60,3.9)(62,4.0)(64,4.2)(66,4.4)(68,4.6)(70,4.9)(72,5.2)(74,5.5)(76,5.9)(78,6.3)(80,6.7)(82,7.2)(84,7.7)(86,8.2)(88,8.7)(90,9.2)(92,9.7)(94,10.1)(96,10.4)(98,10.6)(100,10.7)(102,10.6)(104,10.4)(106,10.1)(108,9.7)(110,9.2)(112,8.7)(114,8.2)(116,7.7)(118,7.2)(120,6.8)};
\addplot[bgl] coordinates {(0,1)(2,1.4)(4,1.9)(6,2.5)(8,3.2)(10,4)(12,4.8)(14,5.6)(16,6.3)(18,6.8)(20,7.1)(22,7.1)(24,6.9)(26,6.5)(28,6)(30,5.4)(32,4.8)(34,4.2)(36,3.7)(38,3.2)(40,2.8)(42,2.45)(44,2.15)(46,1.9)(48,1.7)(50,1.55)(52,1.42)(54,1.32)(56,1.25)(58,1.2)(60,1.17)(62,1.16)(64,1.17)(66,1.2)(68,1.25)(70,1.32)(72,1.42)(74,1.55)(76,1.7)(78,1.9)(80,2.15)(82,2.45)(84,2.8)(86,3.2)(88,3.7)(90,4.2)(92,4.8)(94,5.4)(96,6)(98,6.5)(100,6.9)(102,7.1)(104,7.1)(106,6.8)(108,6.3)(110,5.6)};
\addplot[bgl] coordinates {(0,1)(3,1.3)(6,1.7)(9,2.3)(12,3.1)(15,4.2)(18,5.6)(21,7.4)(24,9.6)(27,12.2)(30,15)(33,18)(36,21)(39,24)(42,26.5)(45,28.5)(48,30)(51,31)(54,31.5)(57,31.3)(60,30.6)(63,29.5)(66,28)(69,26.3)(72,24.5)(75,22.8)(78,21.2)(81,19.8)(84,18.6)(87,17.6)(90,16.9)(93,16.4)(96,16.2)(99,16.2)(102,16.5)(105,17)(108,17.8)(111,18.8)(114,20)(117,21.5)(120,23.3)(123,25.3)(126,27.5)(129,30)(132,32.7)(135,35.5)(138,38.5)};
% low band
\addplot[bgl] coordinates {(0,1)(3,0.7)(6,1.1)(9,0.8)(12,1.2)(15,0.9)(18,0.6)(21,0.9)(24,0.6)(27,0.45)(30,0.65)(33,0.45)(36,0.3)(39,0.45)(42,0.3)(44,0.08)(45,0.3)(48,0.45)(51,0.65)(54,0.45)(57,0.65)(60,0.9)(63,0.65)(66,0.45)(69,0.65)(72,0.45)(75,0.3)(77,0.08)(78,0.3)(81,0.45)(84,0.3)(87,0.45)(90,0.3)(93,0.2)(95,0.08)};
\addplot[bgl] coordinates {(0,1.1)(2,1.5)(4,2)(6,1.5)(8,2.1)(10,2.8)(12,2.1)(14,2.9)(16,2.2)(18,1.6)(20,2.2)(22,1.6)(24,1.2)(26,1.6)(28,1.2)(30,0.9)(32,1.2)(34,0.9)(36,1.25)(38,1.7)(40,1.25)(42,1.7)(44,2.3)(46,1.7)(48,2.3)(50,1.7)(52,1.25)(54,1.7)(56,1.25)(58,0.9)(60,1.25)(62,0.9)(64,1.25)(66,1.7)(68,1.25)(70,1.7)(72,2.3)(74,1.7)(76,2.3)(78,1.7)(80,1.25)(82,1.7)(84,1.25)(86,0.9)(88,1.25)(90,0.9)(92,0.65)(94,0.9)(96,0.65)(98,0.9)(100,1.25)(102,0.9)(104,1.25)(106,1.7)(108,1.25)(110,1.7)(112,2.3)(114,1.7)(116,2.3)(118,3.1)(120,2.3)(122,3.1)(124,4.1)};
\addplot[bgl] coordinates {(0,1)(3,1.6)(6,2.5)(9,3.9)(12,3)(15,4.5)(18,3.4)(21,2.5)(24,3.5)(27,2.6)(30,1.9)(33,2.6)(36,1.9)(39,1.4)(42,1.9)(45,1.4)(48,1)(51,1.35)(54,1)(57,0.72)(60,1)(63,0.72)(66,0.52)(69,0.72)(72,0.52)(75,0.38)(78,0.52)(81,0.38)(84,0.27)(87,0.38)(90,0.27)(93,0.2)(96,0.27)(99,0.2)(102,0.14)(104,0.08)};
\addplot[bgl] coordinates {(0,1)(4,1.3)(8,0.9)(12,1.3)(16,1.8)(20,1.3)(24,0.9)(28,1.3)(32,0.9)(36,0.6)(40,0.85)(44,0.6)(48,0.4)(50,0.08)(51,0.4)(55,0.6)(59,0.4)(63,0.6)(67,0.85)(71,0.6)(75,0.85)(79,1.2)(83,0.85)(87,1.2)(91,0.85)(95,0.6)(99,0.85)(103,0.6)(107,0.4)(111,0.6)(115,0.4)(118,0.08)};
\addplot[bgl] coordinates {(0,1.2)(3,2)(6,3.2)(9,2.4)(12,3.6)(15,5.2)(18,3.9)(21,5.5)(24,4.1)(27,3)(30,4.1)(33,3)(36,2.2)(39,3)(42,2.2)(45,1.6)(48,2.2)(51,1.6)(54,1.15)(57,1.6)(60,1.15)(63,0.85)(66,1.15)(69,0.85)(72,1.15)(75,1.55)(78,1.15)(81,1.55)(84,2.1)(87,1.55)(90,2.1)(93,1.55)(96,1.15)(99,1.55)(102,1.15)(105,0.85)(108,1.15)(111,0.85)(114,0.6)(117,0.85)(120,0.6)};
\addplot[bgl] coordinates {(0,1)(2,1.9)(4,3.4)(6,5.8)(8,9.2)(10,7.1)(12,10.5)(14,8)(16,6)(18,8.2)(20,6.2)(22,4.6)(24,6.1)(26,4.5)(28,3.3)(30,4.3)(32,3.2)(34,2.3)(36,3)(38,2.2)(40,1.6)(42,2.1)(44,1.5)(46,1.1)(48,1.45)(50,1.05)(52,0.75)(54,1)(56,0.72)(58,0.52)(60,0.7)(62,0.5)(64,0.36)(66,0.48)(68,0.35)(70,0.25)(72,0.34)(74,0.24)(76,0.17)(78,0.23)(80,0.17)(82,0.12)(84,0.08)};
\addplot[bgl] coordinates {(0,1)(3,1.2)(6,1.5)(9,1.2)(12,1.6)(15,2.1)(18,1.7)(21,2.2)(24,2.8)(27,2.2)(30,2.8)(33,3.5)(36,2.8)(39,3.5)(42,2.8)(45,2.2)(48,2.8)(51,2.2)(54,2.8)(57,3.6)(60,2.8)(63,3.6)(66,4.5)(69,3.6)(72,4.5)(75,3.6)(78,2.8)(81,3.6)(84,2.8)(87,2.2)(90,2.8)(93,2.2)(96,2.8)(99,3.6)(102,2.8)(105,3.6)(108,4.5)(111,3.6)(114,4.5)(117,5.6)(120,4.5)(123,5.6)(126,7)(129,5.6)(132,7)};
\addplot[bgl] coordinates {(0,1)(2,0.6)(4,0.35)(6,0.5)(8,0.3)(10,0.45)(12,0.65)(14,0.45)(16,0.65)(18,0.9)(20,0.65)(22,0.9)(24,1.25)(26,0.9)(28,0.65)(30,0.9)(32,0.65)(34,0.45)(36,0.65)(38,0.45)(40,0.3)(42,0.45)(44,0.3)(46,0.2)(48,0.3)(50,0.2)(52,0.13)(54,0.2)(56,0.13)(58,0.08)};
\addplot[bgl] coordinates {(0,1)(3,1.8)(6,1.3)(9,2.2)(12,1.6)(15,1.1)(18,1.6)(21,1.1)(24,0.8)(27,1.1)(30,0.8)(33,1.1)(36,1.5)(39,1.1)(42,1.5)(45,1.1)(48,0.8)(51,1.1)(54,0.8)(57,0.55)(60,0.8)(63,0.55)(66,0.38)(69,0.55)(72,0.38)(74,0.08)(75,0.4)(78,0.55)(81,0.4)(84,0.55)(87,0.75)(90,0.55)(93,0.75)(96,1.0)(99,0.75)(102,1.0)(105,0.75)(108,0.55)(111,0.75)(114,0.55)(117,0.4)(120,0.55)(123,0.4)(125,0.08)};

% ---------- Germany ----------
\addplot[hl, cNoData] coordinates {(0,1.2)(3,2.0)(6,3.5)(9,6.5)(12,12)(15,20)(18,30)(21,40)(24,50)(27,58)(30,62)(33.5,60)(36,57)(38.8,55)(40,50)(41.2,42)(43,38)(45.4,33)(48.3,29)(51,24)(53.6,20.4)(54.9,15.5)(56.5,14)(58.4,12.9)(59.3,16)(60.2,19.4)(62,18.5)(64,17)(66.1,16.2)(67.3,8)};
\addplot[hl, cNavy, tip] coordinates {(67.3,8)(69,7.8)(71,7.5)(73,7.0)(75,7.2)(77,6.5)(79,5.8)(81,5.0)(81.6,4.2)(82.8,6)(84,5.6)(87,5.5)(89,5.1)(91,4.8)(93,4.9)(95,4.6)(97,4.5)(99,4.8)(101,5.0)(103,4.8)(105,5.3)(107,5.1)(109,5.0)(111,4.8)(113,4.9)(115,4.6)(117,4.5)(119,4.6)(121,4.4)(123,4.2)(125,3.6)(126.5,3.0)(128,3.8)(130,4.2)(132,4.5)(134,5.0)(135.5,5.3)(137,5.1)(137.5,5.6)};

% ---------- Italy ----------
\addplot[hl, cSalmon] coordinates {(0,1.1)(3,1.9)(6,3.6)(9,7)(12,13)(15,22)(18,33)(21,44)(24,54)(26,60)(29.4,66)(32,62)(35,56)(37.6,50)(40,44)(43.7,36.5)(46,32)(49.5,27)(51.5,23)(53.1,19.4)};
\addplot[hl, cBlue] coordinates {(53.1,19.4)(54.9,15.5)(57,14)(59,14.5)(61.5,12.9)(63,12)(65,11.5)(67.3,10.8)(69,10)(71,9)(73.2,7.9)(75,7.4)(77,6.8)(79,6.0)(80,5.0)(80.5,14)(82,13.5)(83.5,7.5)(85,6)(87,5.6)(89,5.0)(91,4.7)};
\addplot[hl, cNavy, tip] coordinates {(91,4.7)(93,4.2)(95,4.4)(97,4.1)(99,4.0)(101,4.2)(103,3.9)(105,4.4)(107,5.0)(108.5,5.8)(110,7.0)(112,7.3)(114,6.8)(116,6.2)(118,5.6)(119.6,4.8)(121,3.6)(122.5,3.2)(124.4,3.2)(126,2.95)(128.5,3.2)(131,3.15)(134,3.3)(137,3.2)(140.4,3.25)(143,3.3)(145.5,3.6)};

% ---------- a country without label, ending at day 136 ----------
\addplot[hl, cSalmon] coordinates {(0,1.3)(3,2.4)(6,4.5)(9,8.5)(12,15)(15,24)(18,32)(20,35)(23,36)(26.9,33)(29,35)(31.7,37)(35,42)(38.8,46)(42,45)(44,44)(46.5,44)(47.6,48)(50,46)(51.3,45)(54,41)(57,37)(60.2,33)(63,31)(66,30)(69,29)(72.1,28)(75,26)(78,23.5)(81,20.5)(84,17.5)(87,14.7)(88.5,14.5)};
\addplot[hl, cBlue] coordinates {(88.5,14.5)(89.5,11)(90.5,8)(91,5.5)(92,6.2)(94,7.5)(96,7.2)(99,7.0)(102,7.1)(105,6.8)(108,6.6)(110,6.5)};
\addplot[hl, cLight] coordinates {(110,6.5)(112,7.0)(114,7.5)(116,8.0)(118,8.3)(121,8.1)(123,8.6)(125,8.3)(128,8.8)(131,8.6)(133,9.0)(136,9.4)};

% ---------- United Kingdom ----------
\addplot[hl, cDark] coordinates {(0,1.0)(3,2.3)(6,5.2)(9,11)(12,21)(15,36)(18,54)(21,71)(24,85)(26,92)(27.6,95)(29.5,93)(31.5,88)(33.5,83)(35.3,80)};
\addplot[hl, cRed] coordinates {(35.3,80)(37,76)(40,72)(42,69)(45,64)(47.2,60)(50,57)};
\addplot[hl, cSalmon] coordinates {(50,57)(52,53)(55,48)(58.4,44)(61,40)(64,35)(66.5,31)(69.1,28)(72,25)(75,22)(78,19.5)(81,17.8)(84,15.8)(87,14.1)};
\addplot[hl, cBlue] coordinates {(87,14.1)(89.3,12.3)(92,10.8)(95.3,9.8)};
\addplot[hl, cNavy, tip] coordinates {(95.3,9.8)(98,9.2)(101.2,8.6)(103,8.0)(104.2,7.2)(106,7.8)(108,8.5)(109.5,8.2)(111.4,9.0)(113,8.7)(115,9.1)(116.7,8.6)(118.5,9.2)(120,9.9)(122,9.8)(124,10.5)(125.5,10.3)(127,10.6)(128.5,9.8)(129.5,9.5)};

% ---------- Canada ----------
\addplot[hl, cRed] coordinates {(0,1.2)(3,2.1)(6,4.2)(9,8.5)(12,16)(15,27)(18,40)(21,53)(24,63)(27,70)(30,76)(33.5,79)(36,77)(39,73)(42,70)(45.4,66)(48,68)(51,70)(54.3,72)};
\addplot[hl, cSalmon] coordinates {(54.3,72)(57,67)(60.2,63)(62.5,55)(65.6,46)(68,41)(71.5,36)};
\addplot[hl, cBlue] coordinates {(71.5,36)(73.5,38)(75,39)(77,33)(79,30)(81,28)(84,25)(87,23.4)};
\addplot[hl, cNavy] coordinates {(87,23.4)(90,21)(93,19.4)(96,17.5)(99,16)(102,15)(104,14.5)(106,13.5)(108,12)(110,11)(112,9.5)(113.7,8.6)(115,8.2)(116.7,8.2)};
\addplot[hl, cBlue, tip] coordinates {(116.7,8.2)(117.5,9)(119,10.6)(120.5,10.2)(122,11.5)(124,12.5)(126,13.2)};

% ---------- United States ----------
\addplot[hl, cRed] coordinates {(0,1.3)(2,2.0)(4,3.3)(6,5.5)(8,9)(10,14.5)(12,22)(14,31)(16,42)(18,54)(20,65)(22,74)(24,80)(26,84)(28,83)(30,86)(32,88)(34,86)(36,90)(37.6,92)(39.5,87)(41.2,83)(42.5,86)(43.7,88)(45.4,81)(46.5,85)(47.8,91)(49.5,83)(51,82)(53.6,80)(55.4,79)};
\addplot[hl, cSalmon, tip] coordinates {(55.4,79)(57,74)(59,70)(61,67)(64,65.5)(67,64.5)(70,63.5)(73,63)(76,62.5)(79,63)(82,63.5)(85,64.5)(88,65)(91,66)(93.5,69)(96,76)(98.5,86)(101,98)(103.5,112)(106,127)(108.5,140)(111,152)(113.5,165)(116,180)(118.5,192)(121,200)(124,204)(127,204)(129.5,203)};

% ---------- Japan ----------
\addplot[hl, cSalmon] coordinates {(0,1.0)(3,1.7)(6,2.6)(9,3.6)(12,4.3)(15,4.2)(18,4.0)(20,3.8)(23,3.5)(26,2.9)(28,2.5)(31,2.1)(33,1.9)(35,1.5)(37,1.2)};
\addplot[hl, cLight] coordinates {(37,1.2)(39,0.85)(41,0.72)(43,0.68)(46,0.57)(48,0.52)(50,0.4)(52,0.31)(54,0.29)(55,0.27)(56.7,0.23)(57.9,0.35)(60,0.38)(62.5,0.41)(64,0.40)(66,0.33)(68,0.31)(70,0.3)(72,0.32)(74,0.37)(76.3,0.43)(78.6,0.47)(80,0.44)(82,0.5)(84,0.58)(85,0.62)(87,0.68)(88,0.75)(90,0.92)(92,1.15)(94,1.4)(96,1.6)(98,1.85)(100,2.2)};
\addplot[hl, cSalmon, tip] coordinates {(100,2.2)(103,2.7)(106,3.3)(109,4.0)(111,4.7)};

% ---------- South Korea ----------
\addplot[hl, cSalmon] coordinates {(0,1.3)(2,2.2)(4,3.8)(6,6)(8,9)(10,11.5)(11.5,11.8)(13,10)(15,7.5)(16.5,6)};
\addplot[hl, cBlue] coordinates {(16.5,6)(18,4.4)(19.8,3.5)(21,2.6)(22.5,2.1)(23.5,1.8)(25,1.95)(27,1.92)(29,2.0)(31,1.95)(33,1.97)(35,1.9)(36.5,2.05)(37.5,1.85)(38.8,2.05)};
\addplot[hl, cNavy, tip] coordinates {(38.8,2.05)(40,2.0)(42,1.75)(43.5,1.6)(44.2,1.75)(45.5,1.3)(47,1.0)(48,0.9)(50,0.78)(52,0.65)(53.5,0.6)(54.3,0.67)(55,0.52)(56.5,0.42)(58,0.33)(59.5,0.27)(61,0.2)(62,0.185)(64,0.19)(66,0.18)(68,0.185)(70,0.17)(71,0.15)(72,0.135)(73.2,0.13)(74.5,0.135)(75.5,0.17)(76.5,0.25)(78,0.35)(79.5,0.43)(81,0.54)(82.5,0.52)(83.5,0.47)(85,0.44)(86.5,0.4)(88.7,0.35)(90,0.37)(91.5,0.4)(92.9,0.43)(94,0.55)(95.3,0.74)(97,0.82)(99,0.85)(100.7,0.91)(102,0.82)(103,0.75)(105,0.85)(107,0.88)(109,0.92)(110.7,0.93)(113,0.88)(115,0.9)(117,0.92)(119,0.89)(121,0.85)(123,0.8)(124.4,0.79)(126,0.85)(128,0.92)(130,1.0)(131.5,1.05)(133,1.03)(135,0.95)(137,0.97)(139,1.02)(140.4,1.07)(141.5,0.95)(143,0.87)(145,0.93)(147,0.92)(149,0.88)(150,0.88)};

% starting point marker
\addplot[only marks, mark=*, mark size=1.6pt, cBlue] coordinates {(0,1.31)};
\node[anchor=west, fill=white, fill opacity=0.85, text opacity=1, draw=black!15, inner sep=1pt,
      font=\fontsize{6.5}{6.5}\selectfont, text=black!40] at (axis cs:0.4,1.31) {1.31 cases};

% country labels
\node[anchor=west, font=\arial\bfseries\fontsize{10}{10}\selectfont, text=cSalmon!95!black] at (axis cs:132.4,179) {United States};
\node[anchor=west, font=\arial\bfseries\fontsize{10}{10}\selectfont, text=cBlue!80!white] at (axis cs:130.3,14.5) {Canada};
\node[anchor=west, font=\arial\bfseries\fontsize{10}{10}\selectfont, text=cNavy!90!white] at (axis cs:133.3,10.8) {United Kingdom};
\node[anchor=west, font=\arial\bfseries\fontsize{10}{10}\selectfont, text=cNavy!90!white] at (axis cs:139.7,6.8) {Germany};
\node[anchor=west, font=\arial\bfseries\fontsize{10}{10}\selectfont, text=cNavy!90!white] at (axis cs:148.2,4.34) {Italy};
\node[anchor=west, font=\arial\bfseries\fontsize{10}{10}\selectfont, text=cSalmon!95!black] at (axis cs:113.7,6.2) {Japan};
\node[anchor=west, font=\arial\bfseries\fontsize{10}{10}\selectfont, text=cNavy!90!white] at (axis cs:132.9,0.75) {South Korea};
\end{axis}

% ---------- axis title and legend ----------
\begin{scope}[shift={(-28.195pt,295.45pt)}, x=0.5pt, y=-0.5pt]
\node[font=\fontsize{10}{10}\selectfont, text=black!80] at (497,635) {Days since the total confirmed cases per million people reached 1};

\node[anchor=west, font=\lato\bfseries\fontsize{10}{10}\selectfont, text=black!85, inner sep=0pt] at (1033,41) {Positive rate};
\foreach \yy/\cc/\tt/\tc in {
  67/cNone/{<0.1\% of tests}/cNone,
  95/cNavy/{0.1\% - 1\%}/black!78,
  123/cBlue/{1\% - 2\%}/black!78,
  151/cLight/{2\% - 3\%}/black!78,
  178/cSalmon/{3\% - 10\%}/black!78,
  206/cRed/{10\% - 20\%}/black!78,
  233/cDark/{more than 20\%}/black!78,
  261/cNoData/{no testing data}/black!78}{
  \fill[\cc] (1035,\yy-5) rectangle (1045,\yy+5);
  \node[anchor=west, inner sep=0pt, font=\lato\fontsize{9}{9}\selectfont, text=\tc] at (1057,\yy) {\tt};
}
\draw[black!15, line width=0.9pt] (1033,283) -- (1180,283);
\foreach \yy/\tt in {306/Feb, 330/{1,}, 353/2020}{
  \node[anchor=west, inner sep=0pt, font=\lato\fontsize{9}{9}\selectfont, text=black!65] at (1034,\yy) {\tt};
}
\foreach \yy/\tt in {306/Jul, 330/{24,}, 353/2020}{
  \node[anchor=west, inner sep=0pt, font=\lato\fontsize{9}{9}\selectfont, text=black!65] at (1143,\yy) {\tt};
}
\draw[black!55, line width=0.7pt, -{Triangle[length=4pt,width=3.5pt]}] (1084,331) -- (1140,331);
\foreach \xx in {1089,1102,1115,1128}{
  \fill[black!55] (\xx,331) circle[radius=1.2pt];
}
\end{scope}
\end{tikzpicture}
\end{document}
